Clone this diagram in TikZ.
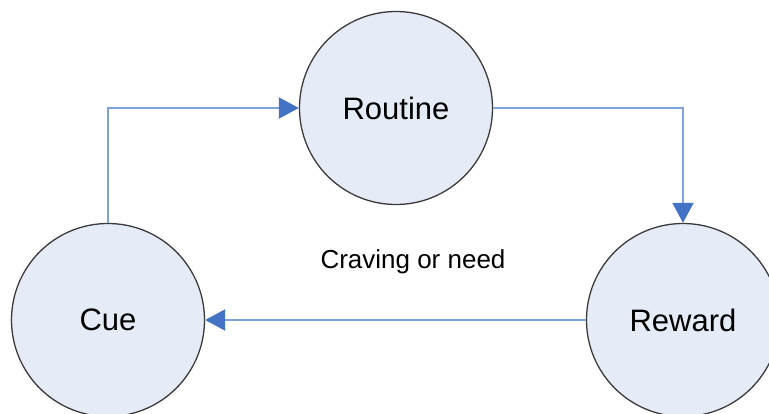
\documentclass[tikz,border=0pt]{standalone}
\usepackage{fontspec}
\setmainfont{Liberation Sans}
\usetikzlibrary{arrows.meta}

\definecolor{stepfill}{HTML}{E6ECF7}
\definecolor{stepline}{HTML}{3A3A3A}
\definecolor{flowline}{HTML}{7EA3DC}
\definecolor{flowtip}{HTML}{4472C4}

\tikzset{
  habit/.style={draw=stepline, line width=1.3pt, circle, fill=stepfill,
    minimum size=193pt, inner sep=0pt, font=\fontsize{31}{31}\selectfont},
  flow/.style={draw=flowline, line width=2pt,
    -{Triangle[length=20pt,width=21pt,color=flowtip]}}
}

\begin{document}
\begin{tikzpicture}[x=1pt,y=-1pt]
		\useasboundingbox (0,0) rectangle (769,414);
		\node[habit] (routine) at (396,108) {Routine};
		\node[habit] (cue) at (108,320) {Cue};
		\node[habit] (reward) at (683,320) {Reward};
		\node[font=\fontsize{26}{26}\selectfont] (craving) at (413,262) {Craving or need};
		% the loop: cue -> routine -> reward -> cue
		\draw[flow] (cue.north) |- (routine.west);
		\draw[flow] (routine.east) -| (reward.north);
		\draw[flow] (reward.west) -- (cue.east);
\end{tikzpicture}
\end{document}
